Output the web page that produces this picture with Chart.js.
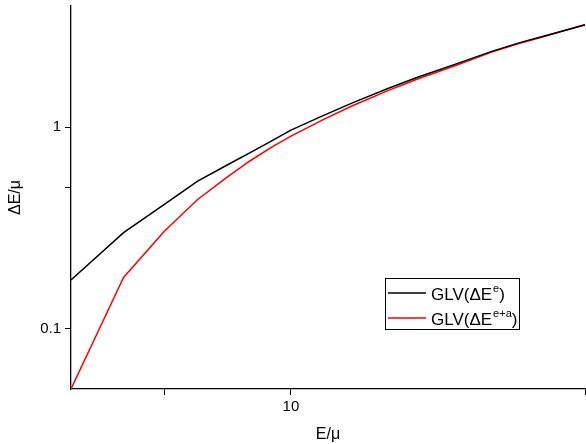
<!DOCTYPE html>
<html>
<head>
<meta charset="utf-8">
<title>GLV energy loss</title>
<script src="https://cdn.jsdelivr.net/npm/chart.js@4.4.1/dist/chart.umd.min.js"></script>
<style>
  html, body { margin: 0; padding: 0; background: #fff; }
  #wrap { position: relative; width: 586px; height: 444px; }
</style>
</head>
<body>
<div id="wrap"><canvas id="lossChart" width="586" height="444"></canvas></div>
<script>
// ====== DATA ======
const energies = [3, 4, 5, 6, 7, 8, 9, 10, 12, 14, 17, 20, 25, 30, 35, 40, 50];
// GLV(ΔE^e)
const glvElastic = [0.174, 0.299, 0.413, 0.539, 0.643, 0.747, 0.854, 0.966, 1.147, 1.32, 1.556, 1.77, 2.08, 2.38, 2.63, 2.84, 3.22];
// GLV(ΔE^e+a)
const glvElasticAbs = [0.05, 0.179, 0.304, 0.437, 0.558, 0.681, 0.796, 0.902, 1.096, 1.277, 1.52, 1.735, 2.05, 2.36, 2.61, 2.82, 3.24];

const xTicks = [5, 10, 50];
const xLabels = [10];
const yTicks = [0.1, 0.5, 1];
const yLabels = [0.1, 1];

const FONT = '"Liberation Sans", Arial, sans-serif';

const toPoints = ys => energies.map((e, i) => ({ x: e, y: ys[i] }));

// ====== LEGEND (drawn by hand for the superscripts) ======
const legendPlugin = {
  id: 'supLegend',
  afterDraw(chart) {
    const ctx = chart.ctx;
    const rows = [
      { color: '#000000', sup: 'e', y: 293 },
      { color: '#ff0000', sup: 'e+a', y: 318 }
    ];
    ctx.save();
    ctx.strokeStyle = '#000';
    ctx.lineWidth = 1;
    ctx.strokeRect(385.5, 278.5, 134, 51);
    rows.forEach(r => {
      ctx.strokeStyle = r.color;
      ctx.lineWidth = 1.5;
      ctx.beginPath();
      ctx.moveTo(388, r.y);
      ctx.lineTo(426, r.y);
      ctx.stroke();

      ctx.fillStyle = '#000';
      ctx.textBaseline = 'alphabetic';
      let x = 431;
      const base = r.y + 7;
      ctx.font = '17px ' + FONT;
      ctx.fillText('GLV(ΔE', x, base);
      x += ctx.measureText('GLV(ΔE').width + 1;
      ctx.font = '11px ' + FONT;
      ctx.fillText(r.sup, x, base - 8);
      x += ctx.measureText(r.sup).width;
      ctx.font = '17px ' + FONT;
      ctx.fillText(')', x, base);
    });
    ctx.restore();
  }
};

// ====== CHART ======
const lossChart = new Chart(document.getElementById('lossChart').getContext('2d'), {
  type: 'line',
  data: {
    datasets: [
      {
        label: 'GLV(ΔE^e)',
        data: toPoints(glvElastic),
        borderColor: '#000000',
        borderWidth: 1.5,
        pointRadius: 0,
        tension: 0,
        fill: false
      },
      {
        label: 'GLV(ΔE^e+a)',
        data: toPoints(glvElasticAbs),
        borderColor: '#ff0000',
        borderWidth: 1.5,
        pointRadius: 0,
        tension: 0,
        fill: false
      }
    ]
  },
  options: {
    responsive: false,
    animation: false,
    devicePixelRatio: 1,
    layout: { padding: { top: 6, right: 1, bottom: 0, left: 0 } },
    plugins: {
      legend: { display: false },
      tooltip: { enabled: false }
    },
    scales: {
      x: {
        type: 'logarithmic',
        min: 3,
        max: 50,
        afterBuildTicks: scale => { scale.ticks = xTicks.map(v => ({ value: v })); },
        afterFit: scale => {
          scale.height = 55;
          scale.paddingLeft = 0;
          scale.paddingRight = 0;
        },
        ticks: {
          autoSkip: false,
          maxRotation: 0,
          padding: 3,
          color: '#000',
          font: { family: FONT, size: 15 },
          callback: v => (xLabels.includes(v) ? String(v) : '')
        },
        grid: { drawOnChartArea: false, drawTicks: true, tickLength: 6, color: '#000' },
        border: { display: true, color: '#000', width: 1.3 },
        title: {
          display: true,
          text: 'E/μ',
          color: '#000',
          font: { family: FONT, size: 16 },
          padding: { top: 0, bottom: 0 }
        }
      },
      y: {
        type: 'logarithmic',
        min: 0.05,
        max: 4,
        afterBuildTicks: scale => { scale.ticks = yTicks.map(v => ({ value: v })); },
        afterFit: scale => {
          scale.width = 71;
          scale.paddingTop = 0;
          scale.paddingBottom = 0;
        },
        ticks: {
          autoSkip: false,
          padding: 4,
          color: '#000',
          font: { family: FONT, size: 15 },
          callback: v => (yLabels.includes(v) ? String(v) : '')
        },
        grid: { drawOnChartArea: false, drawTicks: true, tickLength: 6, color: '#000' },
        border: { display: true, color: '#000', width: 1.3 },
        title: {
          display: true,
          text: 'ΔE/μ',
          color: '#000',
          font: { family: FONT, size: 16 },
          padding: { top: 6, bottom: 0 }
        }
      }
    }
  },
  plugins: [legendPlugin]
});
</script>
</body>
</html>
